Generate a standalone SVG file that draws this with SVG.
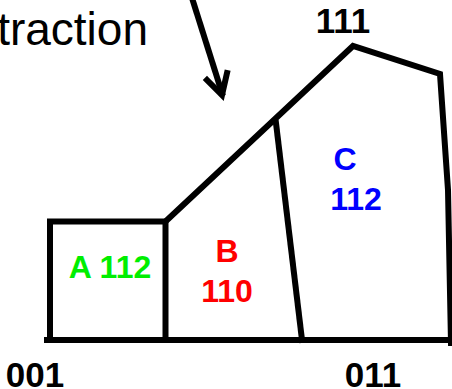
<svg xmlns="http://www.w3.org/2000/svg" width="452" height="389" viewBox="0 0 452 389">
<style>
.ln{fill:none;stroke:#000;stroke-width:6;stroke-linejoin:miter;stroke-linecap:square}
.lbl{font-family:"Liberation Sans",Arial,sans-serif;font-weight:bold;font-size:32px;text-anchor:middle}
.corner{font-family:"Liberation Sans",Arial,sans-serif;font-weight:bold;font-size:35px;text-anchor:middle;fill:#000}
</style>
<rect width="452" height="389" fill="#fff"/>
<g id="caption">
<text x="148" y="45" font-family="'Liberation Sans',Arial,sans-serif" font-size="46" text-anchor="end" fill="#000">traction</text>
</g>
<g id="connectors">
<path class="ln" d="M192,-2 L222,93" stroke-width="5" stroke-linecap="butt"/>
<path class="ln" d="M207,80 L222,95 L227,73" stroke-width="5" stroke-linecap="round"/>
</g>
<g id="outline">
<path class="ln" d="M47,340 L452,340"/>
<path class="ln" d="M50,340 L50,221.5 L165.5,221.5 L165.5,340"/>
<path class="ln" d="M165.5,221.5 L353,46 L440,74 L448,190 L451,343"/>
</g>
<g id="divider">
<path class="ln" d="M276,123 L302,340" stroke-linecap="butt"/>
</g>
<g id="A">
<text class="lbl" x="110" y="278" fill="#00ee00">A 112</text>
</g>
<g id="B">
<text class="lbl" x="227" y="262" fill="#ff0000">B</text>
<text class="lbl" x="227" y="302" fill="#ff0000">110</text>
</g>
<g id="C">
<text class="lbl" x="345" y="170" fill="#0000ff">C</text>
<text class="lbl" x="356" y="210" fill="#0000ff">112</text>
</g>
<g id="corners">
<text class="corner" x="343" y="33">111</text>
<text class="corner" x="35" y="387">001</text>
<text class="corner" x="373" y="387">011</text>
</g>
</svg>
